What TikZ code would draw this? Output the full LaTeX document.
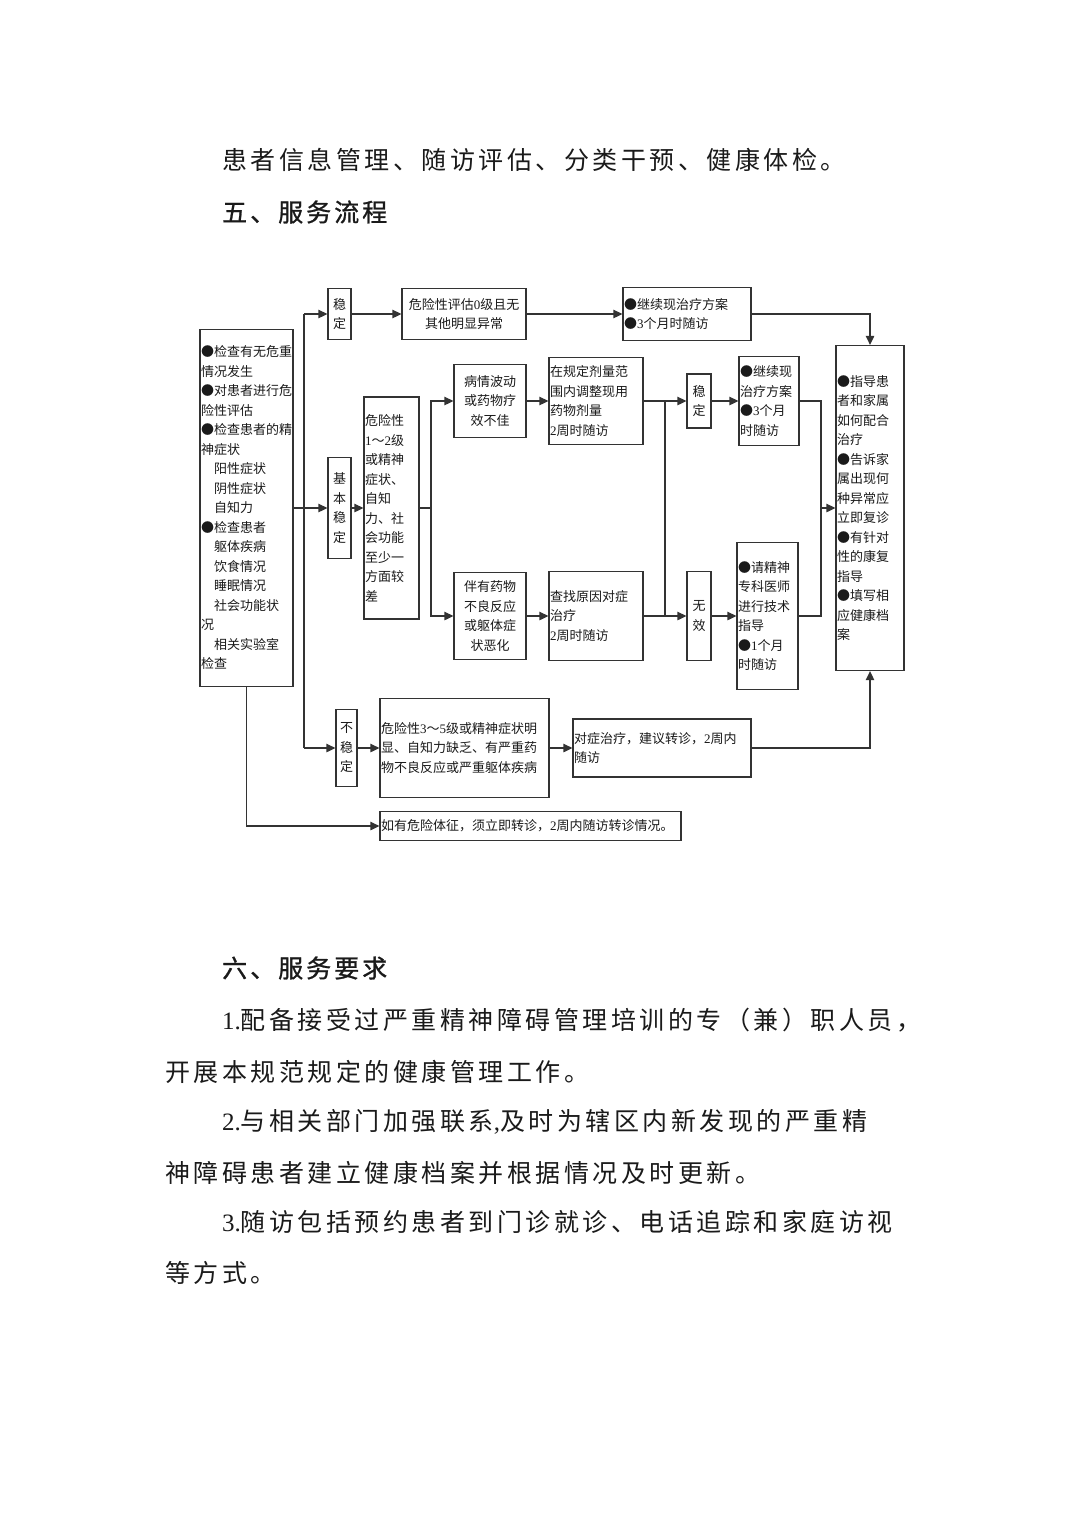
\documentclass[tikz,border=0pt]{standalone}
\usepackage{fontspec}
\setmainfont{Noto Sans CJK SC}
\newfontfamily\bodyf{Noto Sans CJK SC}[LetterSpace=14]
\newfontfamily\headf{Noto Sans CJK SC}[LetterSpace=12, FakeBold=1]
\newfontfamily\latinf{Liberation Serif}
\newcommand\dg[1]{{\latinf #1}}
\usetikzlibrary{arrows.meta}
\definecolor{linec}{HTML}{333333}
\definecolor{txt}{HTML}{1A1A1A}
\tikzset{
 box/.style={draw=linec, line width=1.3pt, inner xsep=1pt, inner ysep=1pt, font=\fontsize{13pt}{19.5pt}\selectfont, text=txt},
 lbox/.style={box, align=left},
 cbox/.style={box, align=center},
 arr/.style={draw=linec, line width=1.3pt, -{Triangle[length=9pt,width=8.5pt]}},
 ln/.style={draw=linec, line width=1.3pt},
 para/.style={anchor=west, inner sep=0pt, font=\fontsize{25pt}{30pt}\bodyf, text=txt},
 head/.style={anchor=west, inner sep=0pt, font=\fontsize{25pt}{30pt}\headf, text=txt},
}
\begin{document}
\begin{tikzpicture}[x=1pt,y=-1pt]
\fill[white] (0,0) rectangle (1074,1520);
\useasboundingbox (0,0) rectangle (1074,1520);

% page text
\node[para] (p1) at (222,160) {患者信息管理、随访评估、分类干预、健康体检。};
\node[head] (h1) at (222,212) {五、服务流程};
\node[head] (h2) at (222,968) {六、服务要求};
\node[para] (p2) at (222,1020) {\dg{1.}配备接受过严重精神障碍管理培训的专（兼）职人员，};
\node[para] (p3) at (165,1072) {开展本规范规定的健康管理工作。};
\node[para] (p4) at (222,1122) {\dg{2.}与相关部门加强联系\dg{,}及时为辖区内新发现的严重精};
\node[para] (p5) at (165,1173) {神障碍患者建立健康档案并根据情况及时更新。};
\node[para] (p6) at (222,1222) {\dg{3.}随访包括预约患者到门诊就诊、电话追踪和家庭访视};
\node[para] (p7) at (165,1273) {等方式。};

% boxes
\node[lbox, text width=91pt, minimum height=357pt] (A) at (246.5,508) {●检查有无危重\\情况发生\\●对患者进行危\\险性评估\\●检查患者的精\\神症状\\\hspace*{1em}阳性症状\\\hspace*{1em}阴性症状\\\hspace*{1em}自知力\\●检查患者\\\hspace*{1em}躯体疾病\\\hspace*{1em}饮食情况\\\hspace*{1em}睡眠情况\\\hspace*{1em}社会功能状\\况\\\hspace*{1em}相关实验室\\检查};
\node[cbox, text width=21pt, minimum height=51pt] (S1) at (339.5,314) {稳\\定};
\node[cbox, text width=122pt, minimum height=51pt] (B1) at (464,314) {危险性评估\dg{0}级且无\\其他明显异常};
\node[lbox, text width=126pt, minimum height=53pt] (C1) at (687,314) {●继续现治疗方案\\●\dg{3}个月时随访};
\node[lbox, text width=66pt, minimum height=325pt] (R) at (870,508) {●指导患\\者和家属\\如何配合\\治疗\\●告诉家\\属出现何\\种异常应\\立即复诊\\●有针对\\性的康复\\指导\\●填写相\\应健康档\\案};
\node[cbox, text width=21pt, minimum height=101pt] (S2) at (339.5,508) {基\\本\\稳\\定};
\node[lbox, text width=53pt, minimum height=222pt] (D) at (391.5,508) {危险性\\\dg{1}～\dg{2}级\\或精神\\症状、\\自知\\力、社\\会功能\\至少一\\方面较\\差};
\node[cbox, text width=70pt, minimum height=73pt] (E1) at (490,401) {病情波动\\或药物疗\\效不佳};
\node[cbox, text width=70pt, minimum height=87pt] (E2) at (490,616) {伴有药物\\不良反应\\或躯体症\\状恶化};
\node[lbox, text width=92pt, minimum height=87pt] (F1) at (596,401) {在规定剂量范\\围内调整现用\\药物剂量\\\dg{2}周时随访};
\node[lbox, text width=92pt, minimum height=89pt] (F2) at (596,616) {查找原因对症\\治疗\\\dg{2}周时随访};
\node[cbox, text width=22pt, minimum height=54pt] (G1) at (699,401) {稳\\定};
\node[cbox, text width=22pt, minimum height=89pt] (G2) at (699,616) {无\\效};
\node[lbox, text width=58pt, minimum height=89pt] (H1) at (769,401) {●继续现\\治疗方案\\●\dg{3}个月\\时随访};
\node[lbox, text width=59pt, minimum height=147pt] (H2) at (767.5,616) {●请精神\\专科医师\\进行技术\\指导\\●\dg{1}个月\\时随访};
\node[cbox, text width=19pt, minimum height=77pt] (U) at (346.5,748) {不\\稳\\定};
\node[lbox, text width=167pt, minimum height=99pt] (V) at (464.5,748) {危险性\dg{3}～\dg{5}级或精神症状明\\显、自知力缺乏、有严重药\\物不良反应或严重躯体疾病};
\node[lbox, text width=176pt, minimum height=58pt] (W) at (662,748) {对症治疗，建议转诊，\dg{2}周内\\随访};
\node[lbox, text width=299pt, minimum height=29pt] (X) at (530.5,826) {如有危险体征，须立即转诊，\dg{2}周内随访转诊情况。};

% connectors
\coordinate (t1) at (304,314);
\coordinate (t2) at (304,748);
\draw[ln] (t1) -- (t2);
\draw[arr] (t1) -- (S1.west);
\draw[arr] (t2) -- (U.west);
\draw[arr] (A.east) -- (S2.west);
\draw[arr] (S1.east) -- (B1.west);
\draw[arr] (B1.east) -- (C1.west);
\draw[arr] (C1.east) -| (R.north);
\draw[arr] (S2.east) -- (D.west);
\coordinate (j1) at (431,508);
\draw[ln] (D.east) -- (j1);
\draw[arr] (j1) |- (E1.west);
\draw[arr] (j1) |- (E2.west);
\draw[arr] (E1.east) -- (F1.west);
\draw[arr] (E2.east) -- (F2.west);
\coordinate (k1) at (665,401);
\coordinate (k2) at (665,616);
\draw[arr] (F1.east) -- (G1.west);
\draw[arr] (F2.east) -- (G2.west);
\draw[ln] (k1) -- (k2);
\draw[arr] (G1.east) -- (H1.west);
\draw[arr] (G2.east) -- (H2.west);
\coordinate (m) at (821,508);
\draw[ln] (H1.east) -| (m);
\draw[ln] (H2.east) -| (m);
\draw[arr] (m) -- (R.west);
\draw[arr] (U.east) -- (V.west);
\draw[arr] (V.east) -- (W.west);
\draw[arr] (W.east) -| (R.south);
\draw[arr] (A.south) |- (X.west);
\end{tikzpicture}
\end{document}
